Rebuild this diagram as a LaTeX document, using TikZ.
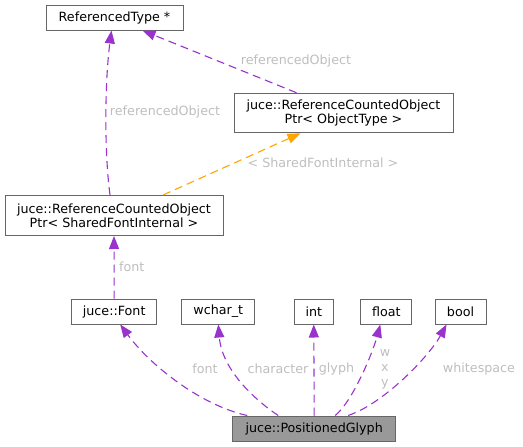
\documentclass[tikz,border=0pt]{standalone}
\usepackage{fontspec}
\setmainfont{DejaVu Sans}
\usetikzlibrary{arrows.meta}

\definecolor{edgepurple}{HTML}{9A32CD}
\definecolor{edgeorange}{HTML}{FFA500}
\definecolor{boxline}{HTML}{666666}
\definecolor{boxfill}{HTML}{999999}
\definecolor{lblgray}{HTML}{BEBEBE}

\begin{document}
\begin{tikzpicture}[x=1pt,y=-1pt,
    cls/.style={draw=boxline,fill=white,line width=1pt,minimum height=25pt,inner sep=0pt,
      align=center,font=\fontsize{12.7}{14}\selectfont},
    member/.style={-{Triangle[length=13pt,width=10pt]},edgepurple,line width=1.1pt,dash pattern=on 8pt off 5pt},
    tmpl/.style={member,edgeorange},
    elabel/.style={lblgray,inner sep=0pt,align=center,font=\fontsize{12.7}{15}\selectfont}]
    \useasboundingbox (0,0) rectangle (523,447);

    % classes
    \node[cls,minimum width=137pt] (reftype) at (114.5,17.5) {ReferencedType *};
    \node[cls,minimum width=219pt,minimum height=39.5pt] (ptrobj) at (343.5,113) {juce::ReferenceCountedObject\\Ptr< ObjectType >};
    \node[cls,minimum width=218pt,minimum height=40pt] (ptrshared) at (114,215.5) {juce::ReferenceCountedObject\\Ptr< SharedFontInternal >};
    \node[cls,minimum width=85pt] (font) at (114.2,311.5) {juce::Font};
    \node[cls,minimum width=73pt] (wchar) at (218.3,311.5) {wchar\_t};
    \node[cls,minimum width=39pt] (int) at (313.8,311.5) {int};
    \node[cls,minimum width=51pt] (float) at (386.3,311.5) {float};
    \node[cls,minimum width=51pt] (bool) at (460.5,311.5) {bool};
    \node[cls,minimum width=163pt,fill=boxfill] (glyph) at (314.2,428.5) {juce::PositionedGlyph};

    % upper part
    \draw[member] ([xshift=-4pt]ptrshared.north) .. controls (104,150) and (105,80) .. ([xshift=-3pt]reftype.south);
    \draw[member] ([xshift=-47pt]ptrobj.north) -- ([xshift=28pt]reftype.south);
    \draw[tmpl] ([xshift=49pt]ptrshared.north) -- ([xshift=-43pt]ptrobj.south);
    \draw[member] (font.north) -- (ptrshared.south);

    \node[elabel] (lblref1) at (165,112) {referencedObject};
    \node[elabel] (lblref2) at (296,61) {referencedObject};
    \node[elabel] (lbltmpl) at (323,163) {< SharedFontInternal >};
    \node[elabel] (lblfont1) at (131.7,266.5) {font};

    % members of the glyph
    \draw[member] ([xshift=-67pt]glyph.north) .. controls (200,405) and (150,365) .. ([xshift=6pt]font.south);
    \draw[member] ([xshift=-36pt]glyph.north) .. controls (255,400) and (222,370) .. (wchar.south);
    \draw[member] (glyph.north) -- (int.south);
    \draw[member] ([xshift=21pt]glyph.north) .. controls (352,402) and (372,355) .. ([xshift=-6pt]float.south);
    \draw[member] ([xshift=34pt]glyph.north) .. controls (385,403) and (430,355) .. ([xshift=-14pt]bool.south);

    \node[elabel] (lblfont2) at (205,369) {font};
    \node[elabel] (lblchar) at (278,369) {character};
    \node[elabel] (lblglyph) at (336.5,369) {glyph};
    \node[elabel] (lblwxy) at (385,369) {w\\x\\y};
    \node[elabel] (lblwhite) at (479,369) {whitespace};
\end{tikzpicture}
\end{document}
